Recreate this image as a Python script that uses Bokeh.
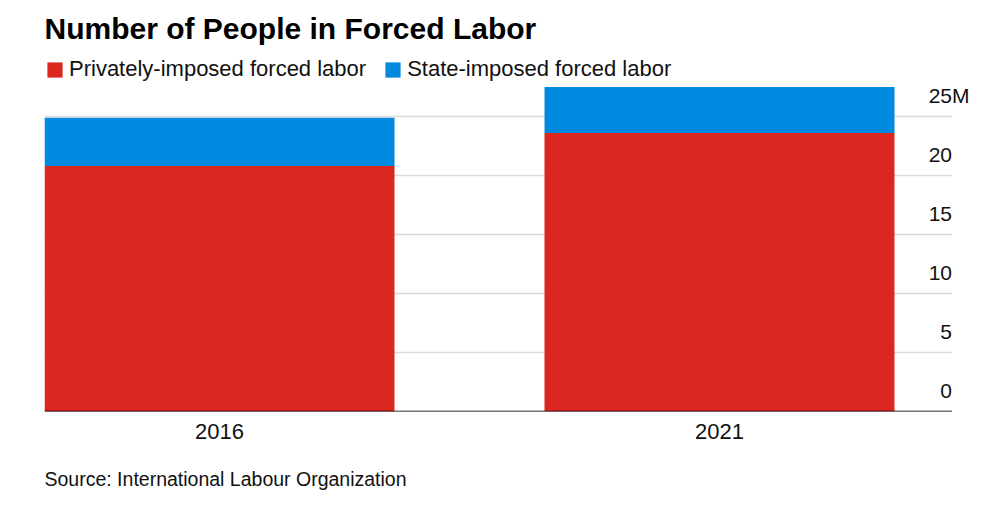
from bokeh.plotting import figure
from bokeh.models import ColumnDataSource, Range1d, FixedTicker, Legend, LegendItem, Title
from bokeh.embed import file_html
from bokeh.resources import INLINE
from bokeh.core.properties import value

# ---- data ----
years = ["2016", "2021"]
privately_imposed = [20.8, 23.6]
state_imposed = [4.1, 3.9]
y_ticks = [0, 5, 10, 15, 20, 25]
y_tick_labels = ["0", "5", "10", "15", "20", "25"]
y_unit = "M"

chart_title = "Number of People in Forced Labor"
source_note = "Source: International Labour Organization"
series_names = ["Privately-imposed forced labor", "State-imposed forced labor"]
colors = ["#dc2620", "#0089de"]

FONT = "Liberation Sans"
W, H = 1000, 514
BORDER_L, BORDER_R, BORDER_T, BORDER_B = 44, 25, 44, 103
frame_w = W - BORDER_L - BORDER_R
frame_h = H - BORDER_T - BORDER_B

bar_width = 0.7
px_per_x = 500.0
x_start = -bar_width / 2
x_end = x_start + frame_w / px_per_x
grid_end = 1.465
px_per_y = 11.8
y_end = frame_h / px_per_y

xs = list(range(len(years)))
src = ColumnDataSource(dict(x=xs, private=privately_imposed, state=state_imposed))

p = figure(width=W, height=H, output_backend="svg", toolbar_location=None,
           x_range=Range1d(x_start, x_end), y_range=Range1d(0, y_end),
           y_axis_location=None, min_border_left=BORDER_L, min_border_right=BORDER_R,
           min_border_top=BORDER_T, min_border_bottom=BORDER_B)
p.grid.visible = False
p.outline_line_color = None
p.background_fill_color = "white"
p.border_fill_color = "white"

p.title.text = chart_title
p.title.text_font = FONT
p.title.text_font_size = "30px"
p.title.text_font_style = "bold"
p.title.text_color = "#000000"
p.title.align = "left"
p.title.standoff = 0
p.title.offset = 0

# gridlines
p.segment(x0=[x_start] * len(y_ticks), x1=[grid_end] * len(y_ticks), y0=y_ticks, y1=y_ticks,
          line_color="#dadada", line_width=1.5)

# bars
rs = p.vbar_stack(["private", "state"], x="x", width=bar_width, source=src,
                  fill_color=colors, line_color=None)

# baseline
p.segment(x0=[x_start], x1=[grid_end], y0=[0], y1=[0], line_color="#000000", line_width=1.5)

# y tick labels
p.text(x=[grid_end] * len(y_ticks), y=y_ticks, text=y_tick_labels,
       text_align="right", text_baseline="alphabetic", y_offset=-21,
       text_font=value(FONT), text_font_size="21px", text_color="#111111")
p.text(x=[grid_end], y=[y_ticks[-1]], text=[y_unit],
       text_align="left", text_baseline="alphabetic", y_offset=-21,
       text_font=value(FONT), text_font_size="21px", text_color="#111111")

# x axis
ax = p.xaxis[0]
ax.ticker = FixedTicker(ticks=xs)
ax.major_label_overrides = {i: y for i, y in zip(xs, years)}
ax.axis_line_color = None
ax.major_tick_line_color = None
ax.minor_tick_line_color = None
ax.major_label_text_font = FONT
ax.major_label_text_font_size = "22px"
ax.major_label_text_color = "#111111"
ax.major_label_standoff = 6

# legend
legend = Legend(items=[LegendItem(label=n, renderers=[r]) for n, r in zip(series_names, rs)],
                orientation="horizontal", location=(1, H - BORDER_B - 82),
                glyph_width=19, glyph_height=19, label_standoff=5, spacing=17,
                padding=0, margin=0, border_line_color=None, background_fill_alpha=0,
                label_text_font=FONT, label_text_font_size="22px", label_text_color="#111111",
                label_height=22)
p.add_layout(legend, "center")

# source note
p.add_layout(Title(text=source_note, align="left", text_font=FONT, text_font_size="19.5px",
                   text_font_style="normal", text_color="#111111", standoff=49), "below")

open("out.html", "w").write(file_html(p, INLINE))
